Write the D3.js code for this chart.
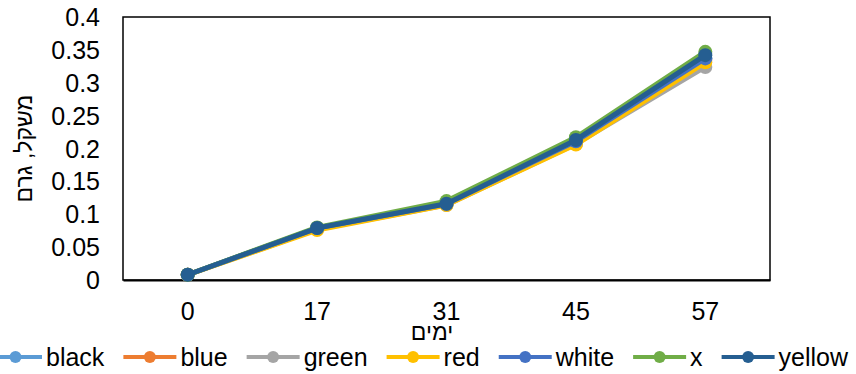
<!DOCTYPE html>
<html><head><meta charset="utf-8">
<script src="https://cdn.jsdelivr.net/npm/d3@7"></script>
<style>
html,body{margin:0;padding:0;background:#fff;}
svg{display:block;font-family:"Liberation Sans",Arial,sans-serif;}
</style></head>
<body><svg id="c" width="856" height="374"></svg>
<script>
const categories = ["0","17","31","45","57"];
const seriesNames = ["black","blue","green","red","white","x","yellow"];
const seriesColors = ["#5B9BD5","#ED7D31","#A5A5A5","#FFC000","#4472C4","#70AD47","#255E91"];
const black  = [0.008,0.079,0.116,0.211,0.337];
const blue   = [0.008,0.078,0.115,0.210,0.335];
const green  = [0.008,0.077,0.114,0.207,0.324];
const red    = [0.008,0.076,0.114,0.206,0.331];
const white  = [0.008,0.079,0.116,0.211,0.337];
const xSer   = [0.008,0.080,0.120,0.217,0.347];
const yellow = [0.008,0.079,0.116,0.213,0.342];
const seriesValues = [black,blue,green,red,white,xSer,yellow];
const yTicks = [0,0.05,0.1,0.15,0.2,0.25,0.3,0.35,0.4];
const yTickLabels = ["0","0.05","0.1","0.15","0.2","0.25","0.3","0.35","0.4"];
const xTitle = "ימים";
const yTitle = "משקל, גרם";

const svg = d3.select("#c");
const L=123,R=770,T=17,B=280;
const x = d3.scaleBand().domain(categories).range([L,R]).padding(0);
const y = d3.scaleLinear().domain([0,0.4]).range([B,T]);
const FS = 25;

// frame
svg.append("rect").attr("x",L).attr("y",T).attr("width",R-L).attr("height",B-T)
  .attr("fill","none").attr("stroke","#000").attr("stroke-width",1.5);

// y axis
const yAxis = d3.axisLeft(y).tickValues(yTicks).tickSize(0).tickPadding(23)
  .tickFormat((d,i)=>yTickLabels[i]);
const gy = svg.append("g").attr("transform",`translate(${L},0)`).call(yAxis);
gy.select(".domain").remove();
gy.selectAll("text").attr("font-size",FS).attr("font-family","Liberation Sans, Arial, sans-serif").attr("fill","#000").attr("dy","0.34em");

// x axis
const xAxis = d3.axisBottom(x).tickSize(0).tickPadding(22);
const gx = svg.append("g").attr("transform",`translate(0,${B})`).call(xAxis);
gx.select(".domain").attr("stroke","#000").attr("stroke-width",2);
gx.selectAll("text").attr("font-size",FS).attr("font-family","Liberation Sans, Arial, sans-serif").attr("fill","#000");

// titles
svg.append("text").attr("x",432).attr("y",340).attr("text-anchor","middle")
  .attr("font-size",FS-2).attr("fill","#000").text(xTitle);
svg.append("text").attr("transform",`translate(32,${(T+B)/2}) rotate(-90)`)
  .attr("text-anchor","middle").attr("font-size",FS-2).attr("fill","#000").text(yTitle);

// series
const line = d3.line().x((d,i)=>x(categories[i])+x.bandwidth()/2).y(d=>y(d));
seriesValues.forEach((vals,si)=>{
  const g = svg.append("g");
  g.append("path").attr("d",line(vals)).attr("fill","none")
    .attr("stroke",seriesColors[si]).attr("stroke-width",5).attr("stroke-linejoin","round");
  g.selectAll("circle").data(vals).join("circle")
    .attr("cx",(d,i)=>x(categories[i])+x.bandwidth()/2).attr("cy",d=>y(d))
    .attr("r",7).attr("fill",seriesColors[si]);
});

// legend
const leg = svg.append("g");
const LY = 357, SW = 53, GAP1 = 4, GAP2 = 19;
let cx = -11;
seriesNames.forEach((n,si)=>{
  leg.append("line").attr("x1",cx).attr("x2",cx+SW).attr("y1",LY).attr("y2",LY)
    .attr("stroke",seriesColors[si]).attr("stroke-width",4);
  leg.append("circle").attr("cx",cx+SW/2).attr("cy",LY).attr("r",6).attr("fill",seriesColors[si]);
  const t = leg.append("text").attr("x",cx+SW+GAP1).attr("y",LY+9).attr("font-size",FS).attr("fill","#000").text(n);
  cx += SW+GAP1+t.node().getComputedTextLength()+GAP2;
});
</script></body></html>
